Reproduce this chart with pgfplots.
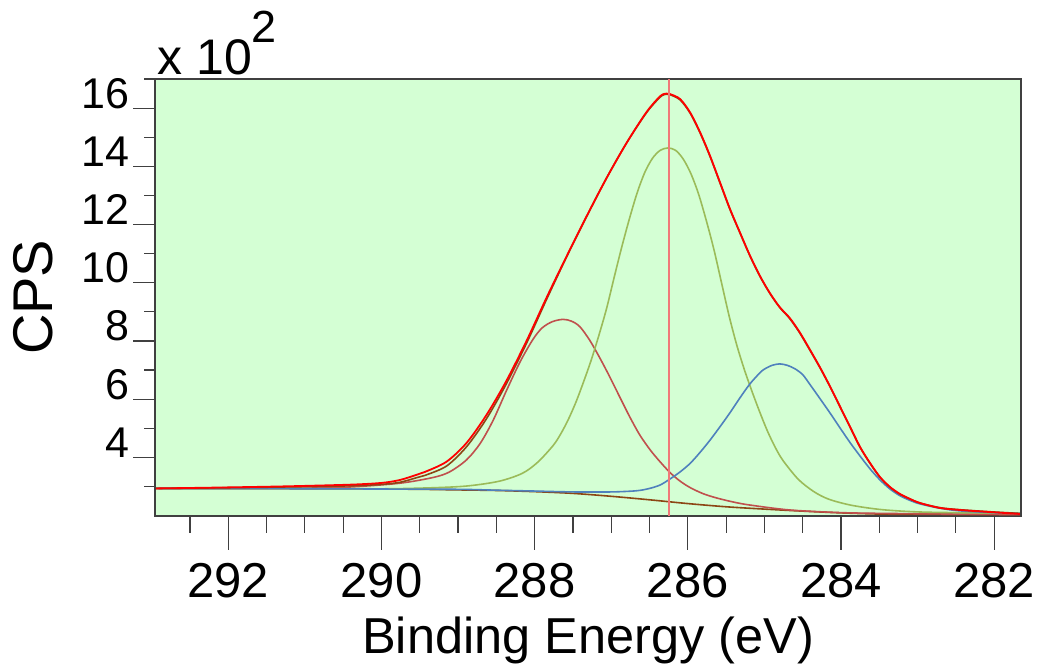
\documentclass[border=0pt]{standalone}
\usepackage{fontspec}
\setmainfont{Liberation Sans}
\usepackage{pgfplots}
\pgfplotsset{compat=1.18}
\definecolor{bgg}{RGB}{212,255,212}
\definecolor{frm}{RGB}{64,64,64}
\definecolor{dred}{RGB}{255,0,0}
\definecolor{brn}{RGB}{140,70,20}
\definecolor{rose}{RGB}{192,80,77}
\definecolor{olive}{RGB}{155,187,89}
\definecolor{cblue}{RGB}{79,129,189}
\definecolor{cursorred}{RGB}{240,120,120}
\begin{document}
\begin{tikzpicture}
\path[use as bounding box] (-77.75pt,-75.25pt) rectangle (442.25pt,257.75pt);
\begin{axis}[
  at={(0pt,0pt)}, anchor=south west,
  scale only axis, width=432.75pt, height=218.25pt,
  x dir=reverse, xmin=281.65, xmax=292.95, ymin=200, ymax=1700,
  axis background/.style={fill=bgg},
  axis line style={frm, line width=1pt},
  xtick={282,284,286,288,290,292}, xticklabels={282,284,286,288,290,292},
  minor xtick={282.5,283,283.5,284.5,285,285.5,286.5,287,287.5,288.5,289,289.5,290.5,291,291.5,292.5},
  ytick=\empty,
  xtick pos=left, tick align=outside,
  major tick length=17pt, minor tick length=8.5pt,
  tick style={frm, line width=0.6pt},
  xticklabel style={font=\fontsize{24.5}{24.5}\selectfont, anchor=base, inner sep=0pt, yshift=-23.75pt},
  xlabel={Binding Energy (eV)},
  xlabel style={font=\fontsize{25.25}{25.25}\selectfont, at={([yshift=-68.75pt]axis description cs:0.5,0)}, anchor=base, inner sep=0pt},
  clip=true,
]
% background
\addplot[brn, line width=0.8pt, smooth] coordinates {(292.95,293)(291,292)(290,291)(289.5,290)(289,288)(288.5,286)(288,282)(287.5,276)(287,266)(286.5,254)(286,241)(285.5,230)(285,222)(284.5,215)(284,209)(283.5,205)(283,204)(282,203)(281.65,203)};
% component (rose)
\addplot[rose, line width=0.8pt, smooth] coordinates {(292.95,293)(291.06,294)(290.41,298)(289.76,311)(289.32,331)(289.11,350)(288.89,391)(288.71,448)(288.54,528)(288.37,628)(288.19,728)(288.02,806)(287.90,845)(287.77,866)(287.63,874)(287.52,868)(287.41,849)(287.28,802)(287.15,742)(287.02,677)(286.89,608)(286.76,540)(286.63,478)(286.49,425)(286.36,384)(286.23,347)(286.10,318)(285.97,296)(285.80,275)(285.62,260)(285.40,246)(285.19,236)(284.67,219)(284.01,210)(283.36,207)(281.65,203)};
% component (olive)
\addplot[olive, line width=0.8pt, smooth] coordinates {(292.95,293)(290.5,292)(289.86,292)(289.26,296)(288.86,302)(288.46,318)(288.16,345)(287.96,383)(287.76,440)(287.66,480)(287.56,530)(287.46,590)(287.36,660)(287.26,735)(287.16,820)(287.06,912)(286.96,1020)(286.86,1125)(286.76,1222)(286.66,1310)(286.56,1380)(286.46,1428)(286.36,1455)(286.26,1463)(286.16,1455)(286.06,1425)(285.96,1375)(285.86,1305)(285.76,1215)(285.66,1115)(285.56,1000)(285.46,885)(285.36,785)(285.26,700)(285.16,625)(285.06,555)(284.96,490)(284.86,435)(284.76,390)(284.56,325)(284.36,283)(284.16,256)(283.86,235)(283.46,220)(282.96,212)(282.26,209)(281.65,207)};
% component (blue)
\addplot[cblue, line width=0.8pt, smooth] coordinates {(292.95,293)(291,292)(290,291)(289,290)(288.5,287)(288,284)(287.5,281)(287.0,281)(286.67,285)(286.5,293)(286.36,305)(286.23,326)(286.10,350)(285.97,379)(285.84,417)(285.71,459)(285.58,505)(285.45,553)(285.32,604)(285.19,652)(285.06,690)(285.00,703)(284.90,716)(284.80,721)(284.70,716)(284.60,704)(284.50,684)(284.41,652)(284.27,600)(284.14,551)(284.01,500)(283.88,450)(283.75,404)(283.62,360)(283.49,322)(283.36,291)(283.23,268)(283.10,252)(282.97,240)(282.71,225)(282.45,216)(282.02,210)(281.65,207)};
% envelope
\addplot[brn, line width=0.8pt, smooth] coordinates {(292.95,293)(292.15,295)(291.29,298)(290.41,302)(290.0,307)(289.76,314)(289.54,330)(289.43,338)(289.15,370)(288.89,436)(288.63,532)(288.37,652)(288.10,795)(287.84,945)(287.58,1090)(287.32,1228)(287.06,1360)(286.80,1480)(286.54,1584)(286.36,1638)(286.28,1648)(286.23,1646)(286.10,1628)(285.97,1583)(285.84,1515)(285.71,1434)(285.58,1343)(285.45,1252)(285.32,1172)(285.19,1093)(285.06,1023)(284.93,964)(284.80,915)(284.67,877)(284.54,828)(284.41,770)(284.27,706)(284.14,641)(284.01,572)(283.88,503)(283.75,434)(283.62,379)(283.49,331)(283.36,297)(283.23,273)(283.10,257)(282.97,243)(282.71,227)(282.45,220)(282.06,213)(281.65,207)};
% data
\addplot[dred, line width=0.9pt, smooth] coordinates {(292.95,293)(292.15,296)(291.29,300)(290.41,306)(290.0,312)(289.76,322)(289.54,340)(289.43,350)(289.15,385)(288.89,449)(288.63,545)(288.37,662)(288.10,803)(287.84,951)(287.58,1092)(287.32,1229)(287.06,1360)(286.80,1480)(286.54,1586)(286.36,1641)(286.28,1650)(286.23,1648)(286.10,1631)(285.97,1585)(285.84,1517)(285.71,1436)(285.58,1345)(285.45,1254)(285.32,1173)(285.19,1094)(285.06,1024)(284.93,965)(284.80,916)(284.67,879)(284.54,830)(284.41,772)(284.27,707)(284.14,642)(284.01,573)(283.88,504)(283.75,435)(283.62,380)(283.49,332)(283.36,298)(283.23,274)(283.10,257)(282.97,243)(282.71,226)(282.45,219)(282.06,212)(281.65,205)};
% cursor line
\addplot[cursorred, line width=1.0pt] coordinates {(286.24,200)(286.24,1700)};
\end{axis}
\begin{axis}[
  at={(0pt,0pt)}, anchor=south west,
  scale only axis, width=432.75pt, height=218.25pt,
  x dir=reverse, xmin=281.65, xmax=292.95, ymin=200, ymax=1700,
  hide x axis, clip=false,
  axis line style={frm, line width=1pt},
  ytick={400,600,800,1000,1200,1400,1600}, yticklabels={4,6,8,10,12,14,16},
  minor ytick={300,500,700,900,1100,1300,1500,1700},
  ytick pos=left, tick align=outside,
  major tick length=11pt, minor tick length=5.5pt,
  tick style={frm, line width=0.6pt},
  yticklabel style={font=\fontsize{21.5}{21.5}\selectfont, anchor=base east, inner sep=0pt, xshift=-1.75pt},
  ylabel={CPS},
  ylabel style={font=\fontsize{28}{28}\selectfont, at={([xshift=-51.25pt]axis description cs:0,0.5)}, anchor=base, inner sep=0pt},
]
\node[anchor=base west, inner sep=0pt] at ([xshift=0.75pt,yshift=2.5pt]rel axis cs:0,1) {\fontsize{25}{25}\selectfont x 10\raisebox{16pt}{\fontsize{22.5}{22.5}\selectfont 2}};
\end{axis}
\end{tikzpicture}
\end{document}
